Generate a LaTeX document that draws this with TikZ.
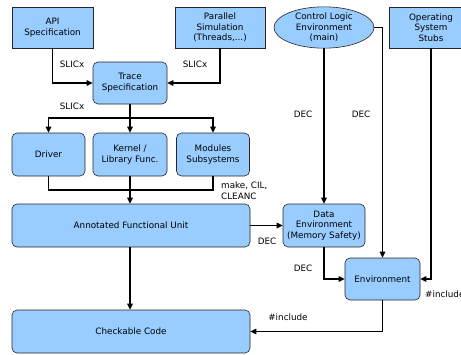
\documentclass[tikz,border=0pt]{standalone}
\usepackage{fontspec}
\setmainfont{DejaVu Sans}
\usetikzlibrary{arrows.meta,shapes.geometric}
\definecolor{boxblue}{HTML}{99CCFF}
\tikzset{
  txt/.style={font=\fontsize{8.8}{10.7}\selectfont},
  block/.style={txt,draw=black!85,fill=boxblue,line width=0.6pt,align=center,inner sep=0pt},
  rblock/.style={block,rounded corners=5pt},
  ellblock/.style={block,ellipse},
  wire/.style={line width=1.2pt},
  flow/.style={wire,-{Triangle[length=6pt,width=5.5pt]}},
  lbl/.style={txt,align=left,inner sep=0pt},
}

\begin{document}
\begin{tikzpicture}[x=1pt,y=-1pt]
\useasboundingbox (0,0) rectangle (461,354);

% sources along the top
\node[block,minimum width=81pt,minimum height=41pt] (api) at (52.5,27.5) {API\\Specification};
\node[block,minimum width=90pt,minimum height=41pt] (par) at (220,27.5) {Parallel\\Simulation\\(Threads,...)};
\node[ellblock,minimum width=100pt,minimum height=41pt] (ctrl) at (324,27.5) {Control Logic\\Environment\\(main)};
\node[block,minimum width=84pt,minimum height=41pt] (oss) at (431,27.5) {Operating\\System\\Stubs};

\node[rblock,minimum width=74pt,minimum height=42pt] (trace) at (130,83) {Trace\\Specification};

\node[rblock,minimum width=73pt,minimum height=43pt] (drv) at (48.5,154.5) {Driver};
\node[rblock,minimum width=74pt,minimum height=43pt] (kern) at (130,154.5) {Kernel /\\Library Func.};
\node[rblock,minimum width=73pt,minimum height=43pt] (mod) at (213,154.5) {Modules\\Subsystems};

\node[rblock,minimum width=238pt,minimum height=43pt] (afu) at (131,225.5) {Annotated Functional Unit};
\node[rblock,minimum width=238pt,minimum height=43pt] (chk) at (131,331.5) {Checkable Code};

\node[rblock,minimum width=82pt,minimum height=43pt] (data) at (324,225.5) {Data\\Environment\\(Memory Safety)};
\node[rblock,minimum width=75pt,minimum height=42pt] (env) at (382.5,279) {Environment};

% slicing into the trace
\draw[flow] (api.south) |- (trace.west);
\draw[flow] (par.south) |- (trace.east);
\node[lbl] (l1) at (72,64) {SLICx};
\node[lbl] (l2) at (195,64) {SLICx};

\coordinate (split) at (130,118);
\draw[wire] (trace.south) -- (split);
\draw[flow] (split) -| (drv.north);
\draw[flow] (split) -| (mod.north);
\draw[flow] (split) -- (kern.north);
\node[lbl] (l3) at (72,106) {SLICx};

\coordinate (merge) at (130,190);
\draw[wire] (drv.south) |- (merge) -| (mod.south);
\draw[flow] (kern.south) -- (kern.south |- afu.north);
\node[lbl,anchor=west] (l4) at (221,191) {make, CIL,\\CLEANC};

\draw[flow] (afu.south -| kern.south) -- (chk.north -| kern.south);
\draw[flow] (afu.east) -- (data.west);
\node[lbl] (l5) at (267,241) {DEC};

% environment side
\draw[flow] (ctrl.south) -- (data.north);
\draw[flow] (ctrl.east) -| (env.north);
\draw[flow] (oss.south) |- (env.east);
\draw[flow] (data.south) |- (env.west);
\node[lbl] (l6) at (303,114) {DEC};
\node[lbl] (l7) at (361,114) {DEC};
\node[lbl] (l8) at (303,268) {DEC};
\node[lbl,anchor=west] (l9) at (425,294) {\#include};

\draw[flow] (env.south) |- (chk.east);
\node[lbl] (l10) at (288,317) {\#include};
\end{tikzpicture}
\end{document}
